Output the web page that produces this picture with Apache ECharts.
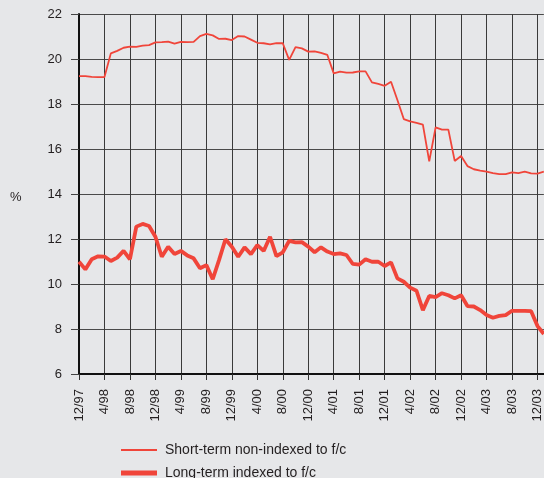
<!DOCTYPE html>
<html>
<head>
<meta charset="utf-8">
<script src="https://cdn.jsdelivr.net/npm/echarts@6/dist/echarts.min.js"></script>
<style>
html,body{margin:0;padding:0;background:#e6e7e9;}
#c{width:544px;height:478px;}
</style>
</head>
<body>
<div id="c"></div>
<script>
var categories = [
 '12/97','1/98','2/98','3/98','4/98','5/98','6/98','7/98','8/98','9/98','10/98','11/98',
 '12/98','1/99','2/99','3/99','4/99','5/99','6/99','7/99','8/99','9/99','10/99','11/99',
 '12/99','1/00','2/00','3/00','4/00','5/00','6/00','7/00','8/00','9/00','10/00','11/00',
 '12/00','1/01','2/01','3/01','4/01','5/01','6/01','7/01','8/01','9/01','10/01','11/01',
 '12/01','1/02','2/02','3/02','4/02','5/02','6/02','7/02','8/02','9/02','10/02','11/02',
 '12/02','1/03','2/03','3/03','4/03','5/03','6/03','7/03','8/03','9/03','10/03','11/03',
 '12/03','1/04'
];
var shortTerm = [
 19.24,19.24,19.21,19.19,19.2,20.25,20.36,20.5,20.55,20.54,
 20.59,20.62,20.74,20.75,20.77,20.68,20.76,20.75,20.76,21.02,
 21.12,21.05,20.89,20.9,20.84,21.02,21.0,20.86,20.72,20.7,
 20.65,20.71,20.7,19.96,20.53,20.47,20.33,20.34,20.27,20.18,
 19.36,19.44,19.39,19.4,19.45,19.45,18.96,18.89,18.81,18.99,
 18.18,17.33,17.23,17.16,17.08,15.45,16.96,16.86,16.86,15.47,
 15.69,15.24,15.1,15.04,14.99,14.93,14.88,14.88,14.96,14.93,
 14.99,14.92,14.91,14.99
];
var longTerm = [
 10.99,10.65,11.1,11.23,11.22,11.02,11.17,11.47,11.1,12.55,
 12.67,12.58,12.1,11.21,11.66,11.33,11.47,11.27,11.14,10.7,
 10.84,10.21,11.07,11.99,11.66,11.21,11.63,11.33,11.73,11.47,
 12.1,11.24,11.41,11.92,11.85,11.86,11.66,11.41,11.63,11.44,
 11.33,11.36,11.29,10.89,10.86,11.1,10.99,10.99,10.8,10.96,
 10.25,10.1,9.84,9.7,8.84,9.47,9.42,9.59,9.5,9.36,
 9.5,9.02,9.0,8.84,8.62,8.5,8.58,8.62,8.81,8.81,
 8.81,8.79,8.13,7.78
];
var seriesNames = ['Short-term non-indexed to f/c', 'Long-term indexed to f/c'];
var yTicks = {min: 6, max: 22, interval: 2};

var font = 'Liberation Sans, Arial, Helvetica, sans-serif';
var red = '#f0453a';
function legendFor(name, top, h) {
  return {
    orient: 'horizontal', left: 121, top: top, padding: 0,
    icon: 'rect', itemWidth: 36, itemHeight: h, selectedMode: false,
    textStyle: {fontFamily: font, fontSize: 14, color: '#231f20', padding: [0,0,0,3]},
    data: [name]
  };
}
var chart = echarts.init(document.getElementById('c'), null, {renderer: 'canvas'});
chart.setOption({
  backgroundColor: '#e6e7e9',
  animation: false,
  textStyle: {fontFamily: font},
  grid: {left: 79, right: 0, top: 14, bottom: 104, containLabel: false},
  legend: [legendFor(seriesNames[0], 443, 2), legendFor(seriesNames[1], 466, 5)],
  graphic: [{
    type: 'text', left: 10, top: 191,
    style: {text: '%', font: '13px ' + font, fill: '#231f20'}
  }],
  xAxis: {
    type: 'category', data: categories, boundaryGap: false,
    axisLine: {show: true, onZero: false, lineStyle: {color: '#111', width: 2}},
    axisTick: {show: true, interval: 3, length: 6, lineStyle: {color: '#333'}},
    axisLabel: {interval: 3, rotate: 90, margin: 15, fontSize: 13, color: '#231f20', fontFamily: font},
    splitLine: {show: true, interval: 3, lineStyle: {color: '#3a3a3a', width: 1}}
  },
  yAxis: {
    type: 'value', min: yTicks.min, max: yTicks.max, interval: yTicks.interval,
    axisLine: {show: true, lineStyle: {color: '#111', width: 2}},
    axisTick: {show: true, length: 8, lineStyle: {color: '#444'}},
    axisLabel: {margin: 17, fontSize: 13, color: '#231f20', fontFamily: font},
    splitLine: {show: true, lineStyle: {color: '#4a4a4a', width: 1}}
  },
  series: [
    {name: seriesNames[0], type: 'line', data: shortTerm, symbol: 'none',
     lineStyle: {color: red, width: 1.8}, itemStyle: {color: red}},
    {name: seriesNames[1], type: 'line', data: longTerm, symbol: 'none',
     lineStyle: {color: red, width: 3.8}, itemStyle: {color: red}}
  ]
});
</script>
</body>
</html>
